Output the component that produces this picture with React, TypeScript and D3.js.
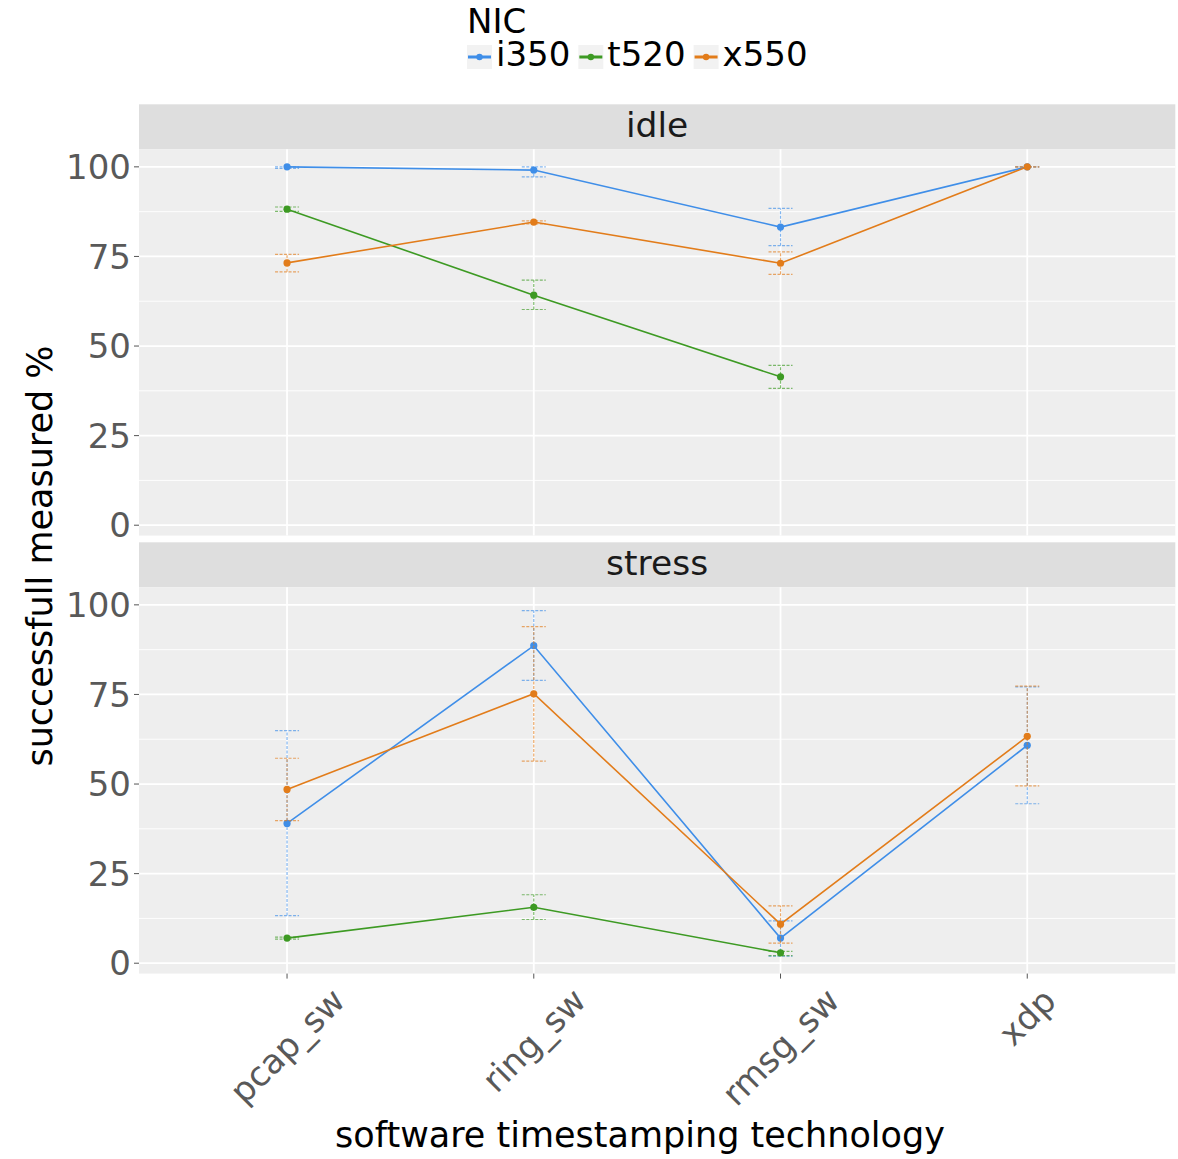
import React, { useEffect, useRef } from 'react';
import * as d3 from 'd3';

// Categories and groups
const categories = ['pcap_sw', 'ring_sw', 'rmsg_sw', 'xdp'];
const nics = ['i350', 't520', 'x550'];
const nicColors = ['#3f8ee8', '#3d9a23', '#e27c1a'];
const conditions = ['idle', 'stress'];
const yTicks = [0, 25, 50, 75, 100];
const yMinorTicks = [12.5, 37.5, 62.5, 87.5];

// idle: mean and error-bar bounds per NIC (null = not measured)
const idleI350Mean = [100, 99.1, 83.2, 100];
const idleI350Lo = [99.6, 97.2, 78.0, 100];
const idleI350Hi = [100, 100, 88.4, 100];
const idleT520Mean = [88.2, 64.2, 41.4, null];
const idleT520Lo = [87.6, 60.2, 38.2, null];
const idleT520Hi = [88.8, 68.4, 44.6, null];
const idleX550Mean = [73.2, 84.6, 73.1, 100];
const idleX550Lo = [70.7, 84.1, 70.0, 100];
const idleX550Hi = [75.6, 84.9, 76.3, 100];

// stress
const stressI350Mean = [39.0, 88.6, 7.0, 60.8];
const stressI350Lo = [13.3, 78.9, 2.0, 44.5];
const stressI350Hi = [64.9, 98.4, 11.8, 77.1];
const stressT520Mean = [7.0, 15.6, 2.9, null];
const stressT520Lo = [6.7, 12.2, 2.1, null];
const stressT520Hi = [7.3, 19.1, 3.3, null];
const stressX550Mean = [48.5, 75.2, 10.9, 63.3];
const stressX550Lo = [39.8, 56.4, 5.6, 49.5];
const stressX550Hi = [57.2, 93.9, 16.0, 77.3];

type Pt = { cat: string; mean: number; lo: number; hi: number };

const build = (mean: (number | null)[], lo: (number | null)[], hi: (number | null)[]): Pt[] =>
  categories
    .map((c, i) => ({ cat: c, mean: mean[i] as number, lo: lo[i] as number, hi: hi[i] as number }))
    .filter((d) => d.mean !== null && d.mean !== undefined);

const panels = [
  [
    build(idleI350Mean, idleI350Lo, idleI350Hi),
    build(idleT520Mean, idleT520Lo, idleT520Hi),
    build(idleX550Mean, idleX550Lo, idleX550Hi),
  ],
  [
    build(stressI350Mean, stressI350Lo, stressI350Hi),
    build(stressT520Mean, stressT520Lo, stressT520Hi),
    build(stressX550Mean, stressX550Lo, stressX550Hi),
  ],
];

const W = 1178;
const H = 1159;
const FONT = '"DejaVu Sans", Verdana, sans-serif';
const TICK_COLOR = '#595959';

export default function App() {
  const ref = useRef<SVGSVGElement | null>(null);

  useEffect(() => {
    const svg = d3.select(ref.current);
    svg.selectAll('*').remove();

    const left = 139;
    const right = 1175.3;
    const stripH = 45;
    const panelH = 386.3;
    const panelTops = [149.3, 587.3];

    const x = d3.scalePoint<string>().domain(categories).range([left, right]).padding(0.6);

    const all = panels.flat(2);
    const lo = d3.min(all, (d) => d.lo) as number;
    const hi = d3.max(all, (d) => d.hi) as number;
    const pad = (hi - lo) * 0.05;
    const yDomain: [number, number] = [lo - pad, hi + pad];

    svg.append('rect').attr('width', W).attr('height', H).attr('fill', '#ffffff');

    panels.forEach((series, p) => {
      const top = panelTops[p];
      const y = d3.scaleLinear().domain(yDomain).range([top + panelH, top]);
      const g = svg.append('g');

      // strip
      g.append('rect').attr('x', left).attr('y', top - stripH).attr('width', right - left).attr('height', stripH).attr('fill', '#dedede');
      g.append('text')
        .attr('x', (left + right) / 2)
        .attr('y', top - 12)
        .attr('text-anchor', 'middle')
        .attr('font-family', FONT)
        .attr('font-size', 34.5)
        .attr('fill', '#1a1a1a')
        .text(conditions[p]);

      // panel background + grid
      g.append('rect').attr('x', left).attr('y', top).attr('width', right - left).attr('height', panelH).attr('fill', '#eeeeee');
      g.selectAll('.minor')
        .data(yMinorTicks)
        .join('line')
        .attr('x1', left)
        .attr('x2', right)
        .attr('y1', (d) => y(d))
        .attr('y2', (d) => y(d))
        .attr('stroke', '#ffffff')
        .attr('stroke-width', 0.9);
      g.selectAll('.major')
        .data(yTicks)
        .join('line')
        .attr('x1', left)
        .attr('x2', right)
        .attr('y1', (d) => y(d))
        .attr('y2', (d) => y(d))
        .attr('stroke', '#ffffff')
        .attr('stroke-width', 1.8);
      g.selectAll('.vmajor')
        .data(categories)
        .join('line')
        .attr('x1', (d) => x(d) as number)
        .attr('x2', (d) => x(d) as number)
        .attr('y1', top)
        .attr('y2', top + panelH)
        .attr('stroke', '#ffffff')
        .attr('stroke-width', 1.8);

      // y axis
      const ya = g.append('g');
      yTicks.forEach((t) => {
        ya.append('line').attr('x1', left - 5).attr('x2', left).attr('y1', y(t)).attr('y2', y(t)).attr('stroke', '#555555').attr('stroke-width', 1);
        ya.append('text')
          .attr('x', left - 8)
          .attr('y', y(t))
          .attr('dy', '0.36em')
          .attr('text-anchor', 'end')
          .attr('font-family', FONT)
          .attr('font-size', 34)
          .attr('fill', TICK_COLOR)
          .text(String(t));
      });

      // series
      series.forEach((pts, k) => {
        const color = nicColors[k];
        const eb = g.append('g').attr('stroke', color).attr('stroke-width', 1.2).attr('stroke-dasharray', '3,1.5').attr('opacity', 0.65);
        pts.forEach((d) => {
          const cx = x(d.cat) as number;
          eb.append('line').attr('x1', cx).attr('x2', cx).attr('y1', y(d.lo)).attr('y2', y(d.hi));
          eb.append('line').attr('x1', cx - 12).attr('x2', cx + 12).attr('y1', y(d.lo)).attr('y2', y(d.lo));
          eb.append('line').attr('x1', cx - 12).attr('x2', cx + 12).attr('y1', y(d.hi)).attr('y2', y(d.hi));
        });
        const line = d3
          .line<Pt>()
          .x((d) => x(d.cat) as number)
          .y((d) => y(d.mean));
        g.append('path').attr('d', line(pts)).attr('fill', 'none').attr('stroke', color).attr('stroke-width', 1.6);
        g.selectAll(null)
          .data(pts)
          .join('circle')
          .attr('cx', (d) => x(d.cat) as number)
          .attr('cy', (d) => y(d.mean))
          .attr('r', 3.6)
          .attr('fill', color);
      });

      // x axis ticks only under the bottom panel
      if (p === panels.length - 1) {
        const bottom = top + panelH;
        categories.forEach((c) => {
          const cx = x(c) as number;
          g.append('line').attr('x1', cx).attr('x2', cx).attr('y1', bottom).attr('y2', bottom + 5).attr('stroke', '#555555').attr('stroke-width', 1);
          const tx = g
            .append('text')
            .attr('text-anchor', 'middle')
            .attr('dominant-baseline', 'central')
            .attr('font-family', FONT)
            .attr('font-size', 34)
            .attr('fill', TICK_COLOR)
            .text(c);
          const w = (tx.node() as SVGTextElement).getComputedTextLength();
          const h = 25;
          const cy = bottom + 12 + (w + h) / (2 * Math.SQRT2);
          tx.attr('transform', `translate(${cx},${cy}) rotate(-45)`);
        });
      }
    });

    // axis titles
    svg
      .append('text')
      .attr('x', 640)
      .attr('y', 1147)
      .attr('text-anchor', 'middle')
      .attr('font-family', FONT)
      .attr('font-size', 35)
      .attr('fill', '#000000')
      .text('software timestamping technology');
    svg
      .append('text')
      .attr('transform', 'translate(52,556) rotate(-90)')
      .attr('text-anchor', 'middle')
      .attr('font-family', FONT)
      .attr('font-size', 35)
      .attr('fill', '#000000')
      .text('successfull measured %');

    // legend
    const lg = svg.append('g');
    lg.append('text').attr('x', 467).attr('y', 33).attr('font-family', FONT).attr('font-size', 34).attr('fill', '#000000').text('NIC');
    let lx = 467;
    nics.forEach((n, k) => {
      const key = lg.append('g');
      key.append('rect').attr('x', lx).attr('y', 45).attr('width', 25).attr('height', 24).attr('fill', '#f2f2f2');
      key.append('line').attr('x1', lx + 1).attr('x2', lx + 24).attr('y1', 57).attr('y2', 57).attr('stroke', nicColors[k]).attr('stroke-width', 3);
      key.append('circle').attr('cx', lx + 12.5).attr('cy', 57).attr('r', 3.2).attr('fill', nicColors[k]);
      const t = lg
        .append('text')
        .attr('x', lx + 29)
        .attr('y', 66)
        .attr('font-family', FONT)
        .attr('font-size', 34)
        .attr('fill', '#000000')
        .text(n);
      const w = (t.node() as SVGTextElement).getComputedTextLength();
      lx = lx + 29 + w + 8;
    });
  }, []);

  return <svg ref={ref} width={W} height={H} style={{ position: 'absolute', left: 0, top: 0 }} />;
}
